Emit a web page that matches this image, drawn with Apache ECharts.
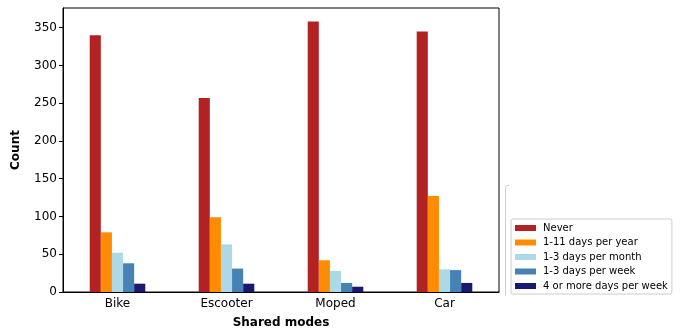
<!DOCTYPE html>
<html>
<head>
<meta charset="utf-8">
<script src="https://cdn.jsdelivr.net/npm/echarts@6/dist/echarts.min.js"></script>
<style>html,body{margin:0;padding:0;background:#fff}#c{width:682px;height:335px}</style>
</head>
<body>
<div id="c"></div>
<script>
var categories = ['Bike', 'Escooter', 'Moped', 'Car'];
var seriesNames = ['Never', '1-11 days per year', '1-3 days per month', '1-3 days per week', '4 or more days per week'];
var never = [340, 257, 358, 345];
var perYear = [79, 99, 42, 127];
var perMonth = [52, 63, 28, 30];
var perWeek = [38, 31, 12, 29];
var fourPlus = [11, 11, 7, 12];
var yTicks = [0, 50, 100, 150, 200, 250, 300, 350];
var colors = ['#b22222', '#ff8c00', '#add8e6', '#4682b4', '#191970'];

var allData = [never, perYear, perMonth, perWeek, fourPlus];
var font = 'DejaVu Sans';
var chart = echarts.init(document.getElementById('c'), null, {renderer: 'canvas'});
chart.setOption({
  animation: false,
  textStyle: {fontFamily: font},
  grid: {left: 63, right: 183, top: 8, bottom: 43, show: true, borderColor: '#000', borderWidth: 1},
  xAxis: {
    type: 'category', data: categories,
    name: 'Shared modes', nameLocation: 'middle', nameGap: 25,
    nameTextStyle: {fontFamily: font, fontWeight: 'bold', fontSize: 12, color: '#000'},
    axisLine: {lineStyle: {color: '#000', width: 1}},
    axisTick: {alignWithLabel: true, length: 4, lineStyle: {color: '#000'}},
    axisLabel: {fontFamily: font, fontSize: 12, color: '#000', margin: 6}
  },
  yAxis: {
    type: 'value', min: 0, max: 376, interval: 50,
    name: 'Count', nameLocation: 'middle', nameGap: 41,
    nameTextStyle: {fontFamily: font, fontWeight: 'bold', fontSize: 12, color: '#000'},
    splitLine: {show: false},
    axisLine: {show: true, lineStyle: {color: '#000', width: 1}},
    axisTick: {show: true, length: 4, lineStyle: {color: '#000'}, customValues: yTicks},
    axisLabel: {fontFamily: font, fontSize: 12, color: '#000', margin: 6, customValues: yTicks}
  },
  legend: {
    orient: 'vertical', left: 511, top: 219,
    data: seriesNames,
    itemWidth: 21, itemHeight: 6, itemGap: 4.5,
    icon: 'rect',
    padding: [4, 4, 3, 4],
    borderColor: '#cccccc', borderWidth: 1, borderRadius: 2,
    textStyle: {fontFamily: font, fontSize: 10, color: '#000', lineHeight: 10, padding: [0, 0, 0, 2]}
  },
  graphic: [{
    type: 'polyline', silent: true,
    shape: {points: [[509, 185], [506, 186], [505.5, 189], [505.5, 296]]},
    style: {stroke: '#d0d0d0', lineWidth: 1, fill: null}
  }],
  series: seriesNames.map(function (n, i) {
    return {
      name: n, type: 'bar', data: allData[i],
      itemStyle: {color: colors[i]},
      barGap: '0%', barCategoryGap: '49%'
    };
  })
});
</script>
</body>
</html>
